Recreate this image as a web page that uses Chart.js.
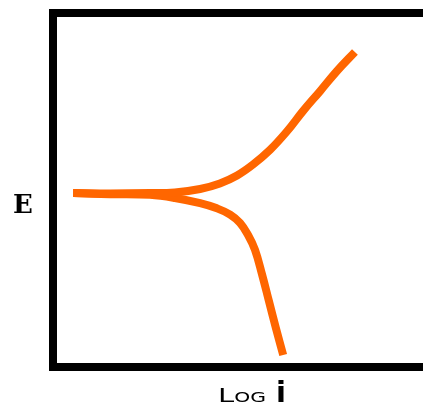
<!DOCTYPE html>
<html>
<head>
<meta charset="utf-8">
<script src="https://cdn.jsdelivr.net/npm/chart.js@4"></script>
<style>
  html, body { margin: 0; padding: 0; background: #fff; }
  #chart { display: block; }
</style>
</head>
<body>
<canvas id="chart" width="423" height="408"></canvas>
<script>
// anodic branch (upper curve)
const anodicLogI = [0.44, 1.45, 2.54, 3.22, 3.91, 4.45, 4.92, 5.36, 5.82, 6.28, 6.72, 7.19, 7.65, 8.14]
const anodicE = [4.91, 4.90, 4.91, 4.93, 5.03, 5.19, 5.42, 5.74, 6.16, 6.69, 7.28, 7.86, 8.44, 8.99]

// cathodic branch (lower curve)
const cathodicLogI = [0.44, 1.45, 2.54, 3.22, 3.91, 4.37, 4.73, 5.00, 5.22, 5.41, 5.60, 5.79, 5.98, 6.18]
const cathodicE = [4.91, 4.88, 4.86, 4.77, 4.62, 4.47, 4.29, 4.05, 3.70, 3.27, 2.57, 1.79, 1.01, 0.23]

const xLabel = 'Log'
const xLabelVar = 'i'
const yLabel = 'E'

const ORANGE = '#ff6600'

function toPoints(xs, ys) {
  return xs.map((x, i) => ({ x, y: ys[i] }))
}

// black frame (open on the right) + upright axis labels
const framePlugin = {
  id: 'frame',
  beforeDatasetsDraw(chart) {
    const { ctx, chartArea: a } = chart
    const w = 8
    ctx.save()
    ctx.fillStyle = '#000'
    ctx.fillRect(a.left - w, a.top - w, chart.width - a.left + w, w)
    ctx.fillRect(a.left - w, a.top - w, w, a.bottom - a.top + 2 * w)
    ctx.fillRect(a.left - w, a.bottom, chart.width - a.left + w, w)
    ctx.restore()
  },
  afterDraw(chart) {
    const { ctx, chartArea: a } = chart
    ctx.save()
    ctx.fillStyle = '#000'
    ctx.textBaseline = 'alphabetic'

    ctx.font = 'bold 26px "DejaVu Serif"'
    ctx.textAlign = 'center'
    ctx.fillText(yLabel, 23, (a.top + a.bottom) / 2 + 23)

    ctx.textAlign = 'left'
    ctx.save()
    ctx.translate(218, 402)
    ctx.scale(1.45, 1)
    ctx.font = 'small-caps 20px "DejaVu Sans"'
    ctx.fillText(xLabel, 0, 0)
    ctx.restore()
    ctx.font = 'bold 29px "DejaVu Sans"'
    ctx.fillText(xLabelVar, 276, 402)
    ctx.restore()
  },
}

new Chart(document.getElementById('chart'), {
  type: 'line',
  data: {
    datasets: [
      {
        label: 'anodic',
        data: toPoints(anodicLogI, anodicE),
        borderColor: ORANGE,
        borderWidth: 8,
        pointRadius: 0,
        fill: false,
        tension: 0.4,
      },
      {
        label: 'cathodic',
        data: toPoints(cathodicLogI, cathodicE),
        borderColor: ORANGE,
        borderWidth: 8,
        pointRadius: 0,
        fill: false,
        tension: 0.4,
      },
    ],
  },
  options: {
    responsive: false,
    animation: false,
    devicePixelRatio: 1,
    layout: { padding: { left: 57, top: 17, right: 0, bottom: 45 } },
    plugins: {
      legend: { display: false },
      tooltip: { enabled: false },
    },
    scales: {
      x: { type: 'linear', min: 0, max: 10, display: false },
      y: { type: 'linear', min: 0, max: 10, display: false },
    },
  },
  plugins: [framePlugin],
})
</script>
</body>
</html>
